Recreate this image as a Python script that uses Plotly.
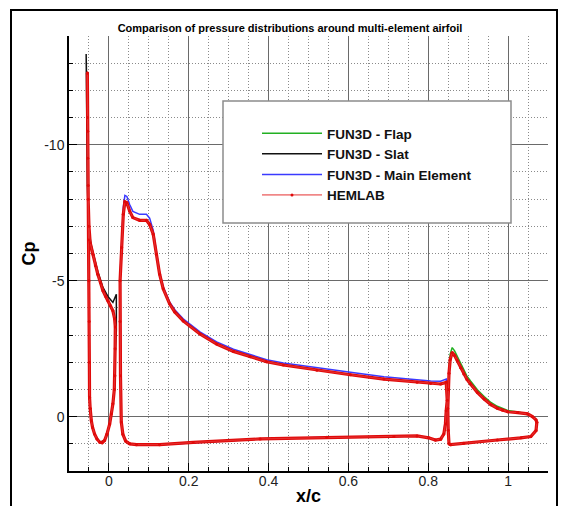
import plotly.graph_objects as go

# ---------------- data ----------------
# HEMLAB - slat (closed loop: LE -> upper -> TE -> lower -> LE)
hem_slat_x = [-0.054, -0.0535, -0.053, -0.052, -0.050, -0.047, -0.040, -0.034, -0.028, -0.021,
              -0.015, -0.008, -0.0025, 0.004, 0.010, 0.0143, 0.016, 0.0155, 0.015, 0.0135,
              0.010, 0.006, 0.002, -0.005, -0.011, -0.017, -0.023, -0.030, -0.036, -0.041,
              -0.044, -0.047, -0.0485, -0.049, -0.0495, -0.050, -0.051, -0.052, -0.053, -0.054]
hem_slat_cp = [-12.64, -11.0, -9.5, -8.0, -7.0, -6.4, -5.97, -5.55, -5.24, -4.92,
               -4.63, -4.42, -4.26, -4.08, -3.89, -3.6, -3.3, -2.5, -1.5, -1.0,
               -0.47, -0.1, 0.27, 0.65, 0.88, 0.96, 0.94, 0.82, 0.64, 0.4,
               0.15, -0.3, -0.71, -2.0, -3.5, -5.0, -6.5, -8.5, -10.5, -12.64]

# HEMLAB - main element
hem_main_x = [0.052, 0.042, 0.035, 0.031, 0.029, 0.028, 0.028, 0.032, 0.036, 0.040,
              0.045, 0.052, 0.060, 0.077, 0.094, 0.102, 0.111, 0.119, 0.127, 0.136,
              0.152, 0.165, 0.186, 0.228, 0.270, 0.312, 0.354, 0.395, 0.437, 0.521,
              0.605, 0.689, 0.772, 0.806, 0.831, 0.845, 0.8475, 0.845, 0.843, 0.839,
              0.831, 0.818, 0.801, 0.772, 0.714, 0.546, 0.379, 0.211, 0.127, 0.069, 0.052]
hem_main_cp = [1.0, 0.9, 0.65, 0.2, -1.5, -3.5, -5.0, -6.22, -7.44, -7.9,
               -7.87, -7.56, -7.32, -7.22, -7.22, -7.07, -6.71, -5.97, -5.24, -4.7,
               -4.15, -3.85, -3.52, -3.04, -2.67, -2.40, -2.20, -2.02, -1.90, -1.71,
               -1.54, -1.38, -1.26, -1.22, -1.20, -1.26, -0.6, -0.22, 0.27, 0.64,
               0.83, 0.86, 0.78, 0.71, 0.73, 0.76, 0.82, 0.95, 1.03, 1.03, 1.0]

# HEMLAB - flap
hem_flap_x = [0.852, 0.850, 0.849, 0.850, 0.852, 0.855, 0.860, 0.866, 0.873, 0.881,
              0.889, 0.897, 0.906, 0.923, 0.940, 0.957, 0.973, 0.986, 0.999, 1.024,
              1.049, 1.061, 1.070, 1.072, 1.070, 1.057, 1.032, 0.973, 0.889, 0.856, 0.852]
hem_flap_cp = [1.0, 0.5, -0.3, -1.0, -1.6, -2.1, -2.36, -2.25, -2.06, -1.8,
               -1.57, -1.37, -1.20, -0.89, -0.65, -0.44, -0.31, -0.23, -0.18, -0.15,
               -0.10, 0.0, 0.12, 0.21, 0.51, 0.73, 0.78, 0.86, 0.98, 1.03, 1.0]

# FUN3D - slat (TE lower -> lower -> LE -> upper -> TE)
f3d_slat_x = [0.0186, 0.016, 0.0135, 0.010, 0.002, -0.011, -0.023, -0.036, -0.044, -0.0485,
              -0.050, -0.052, -0.055, -0.057, -0.056, -0.054, -0.051, -0.045, -0.040, -0.028,
              -0.015, -0.0025, 0.010, 0.0186, 0.0186]
f3d_slat_cp = [-3.16, -2.4, -1.1, -0.47, 0.27, 0.88, 0.94, 0.64, 0.15, -0.71,
               -4.0, -8.0, -11.5, -13.34, -11.0, -8.5, -7.0, -6.35, -6.05, -5.35,
               -4.75, -4.42, -4.2, -4.5, -3.16]

# FUN3D - main element
f3d_main_x = [0.052, 0.042, 0.035, 0.031, 0.029, 0.028, 0.028, 0.032, 0.036, 0.040,
              0.045, 0.052, 0.060, 0.077, 0.094, 0.102, 0.111, 0.119, 0.127, 0.136,
              0.152, 0.165, 0.186, 0.228, 0.270, 0.312, 0.354, 0.395, 0.437, 0.521,
              0.605, 0.689, 0.772, 0.806, 0.831, 0.845, 0.8475, 0.845, 0.843, 0.839,
              0.831, 0.818, 0.801, 0.772, 0.714, 0.546, 0.379, 0.211, 0.127, 0.069, 0.052]
f3d_main_cp = [1.0, 0.9, 0.65, 0.2, -1.5, -3.5, -5.1, -6.4, -7.7, -8.14,
               -8.1, -7.8, -7.55, -7.44, -7.44, -7.3, -6.85, -6.05, -5.3, -4.78,
               -4.22, -3.93, -3.6, -3.12, -2.75, -2.48, -2.28, -2.09, -1.97, -1.79,
               -1.63, -1.47, -1.35, -1.31, -1.30, -1.38, -0.6, -0.22, 0.27, 0.64,
               0.83, 0.86, 0.78, 0.71, 0.73, 0.76, 0.82, 0.95, 1.03, 1.03, 1.0]

# FUN3D - flap
f3d_flap_x = [0.852, 0.850, 0.849, 0.850, 0.852, 0.855, 0.860, 0.866, 0.873, 0.881,
              0.889, 0.897, 0.906, 0.923, 0.940, 0.957, 0.973, 0.986, 0.999, 1.024,
              1.049, 1.061, 1.070, 1.072, 1.070, 1.057, 1.032, 0.973, 0.889, 0.856, 0.852]
f3d_flap_cp = [1.0, 0.5, -0.3, -1.1, -1.75, -2.3, -2.54, -2.42, -2.2, -1.93,
               -1.7, -1.49, -1.31, -0.99, -0.74, -0.52, -0.38, -0.29, -0.23, -0.17,
               -0.10, 0.0, 0.12, 0.21, 0.51, 0.73, 0.78, 0.86, 0.98, 1.03, 1.0]

series_names = ["FUN3D - Flap", "FUN3D - Slat", "FUN3D - Main Element", "HEMLAB"]
series_colors = ["#22b022", "#111111", "#3a3aff", "#e00a0a"]

x_tick_vals = [0, 0.2, 0.4, 0.6, 0.8, 1.0]
x_tick_text = ["0", "0.2", "0.4", "0.6", "0.8", "1"]
y_tick_vals = [-10, -5, 0]
y_tick_text = ["-10", "-5", "0"]
x_minor_vals = [round(-0.1 + 0.05 * i, 2) for i in range(25)]
y_minor_vals = list(range(-14, 3))

title_text = "Comparison of pressure distributions around multi-element airfoil"
x_label = "x/c"
y_label = "Cp"

FONT = "Liberation Sans, Arial, Helvetica, sans-serif"

fig = go.Figure()
fig.add_trace(go.Scatter(x=f3d_flap_x, y=f3d_flap_cp, mode="lines", name=series_names[0],
                         line=dict(color=series_colors[0], width=1.5)))
fig.add_trace(go.Scatter(x=f3d_slat_x, y=f3d_slat_cp, mode="lines", name=series_names[1],
                         line=dict(color=series_colors[1], width=1.5)))
fig.add_trace(go.Scatter(x=f3d_main_x, y=f3d_main_cp, mode="lines", name=series_names[2],
                         line=dict(color=series_colors[2], width=1.5)))

hem_x = hem_slat_x + [None] + hem_main_x + [None] + hem_flap_x
hem_cp = hem_slat_cp + [None] + hem_main_cp + [None] + hem_flap_cp
# dense HEMLAB symbols make the curve look thick: a thick underlay of the same data
fig.add_trace(go.Scatter(x=hem_x, y=hem_cp, mode="lines", name=series_names[3],
                         legendgroup="hem", showlegend=False, connectgaps=False, hoverinfo="skip",
                         line=dict(color=series_colors[3], width=3.2)))
fig.add_trace(go.Scatter(x=hem_x, y=hem_cp, mode="lines+markers", name=series_names[3],
                         legendgroup="hem", connectgaps=False,
                         line=dict(color="#e63030", width=1),
                         marker=dict(color=series_colors[3], size=3)))

L, R, T, B = 69, 18, 36, 35
W, H = 566, 506
pw, ph = W - L - R, H - T - B


def px2paper_x(px):
    return (px - L) / pw


def px2paper_y(py):
    return (H - B - py) / ph


# legend box
fig.add_shape(type="rect", xref="paper", yref="paper",
              x0=px2paper_x(223), x1=px2paper_x(511), y0=px2paper_y(223), y1=px2paper_y(101),
              line=dict(color="#8c8c8c", width=1.5), fillcolor="white", layer="above")
# outer frame
fig.add_shape(type="rect", xref="paper", yref="paper",
              x0=px2paper_x(11), x1=px2paper_x(557), y0=px2paper_y(530), y1=px2paper_y(10),
              line=dict(color="black", width=2), fillcolor="rgba(0,0,0,0)", layer="above")

grid_major = "#6a6a6a"
grid_minor = "#8a8a8a"
minor_dash = "1px,2px"

fig.update_layout(
    width=W, height=H,
    margin=dict(l=L, r=R, t=T, b=B, autoexpand=False),
    paper_bgcolor="white", plot_bgcolor="white",
    font=dict(family=FONT, color="#222222"),
    title=dict(text="<b>" + title_text + "</b>", x=290 / W, xanchor="center", xref="container",
               y=1 - 28 / H, yanchor="middle", yref="container",
               font=dict(size=11, color="black", family=FONT)),
    showlegend=True,
    legend=dict(x=px2paper_x(257), y=px2paper_y(118), xanchor="left", yanchor="top",
                bgcolor="rgba(0,0,0,0)", borderwidth=0, itemwidth=60,
                font=dict(size=13.5, color="#111111", family=FONT, weight="bold"), tracegroupgap=0,
                itemclick=False),
    xaxis=dict(range=[-0.1, 1.1], tickmode="array", tickvals=x_tick_vals, ticktext=x_tick_text,
               showline=True, linecolor="black", linewidth=1.5,
               ticks="inside", ticklen=8, tickcolor="black", tickwidth=1, ticklabelstandoff=-4,
               showgrid=True, gridcolor=grid_major, gridwidth=1, zeroline=False,
               tickfont=dict(size=14, color="#222222"),
               minor=dict(tickmode="array", tickvals=x_minor_vals, ticks="inside", ticklen=4,
                          tickcolor="black", showgrid=True, gridcolor=grid_minor,
                          griddash=minor_dash, gridwidth=1),
               title=dict(text="<b>" + x_label + "</b>", font=dict(size=18, color="black"), standoff=9),
               automargin=False),
    yaxis=dict(range=[2, -14], tickmode="array", tickvals=y_tick_vals, ticktext=y_tick_text,
               showline=True, linecolor="black", linewidth=1.5,
               ticks="inside", ticklen=8, tickcolor="black", tickwidth=1,
               showgrid=True, gridcolor=grid_major, gridwidth=1, zeroline=False,
               tickfont=dict(size=14, color="#222222"),
               minor=dict(tickmode="array", tickvals=y_minor_vals, ticks="inside", ticklen=4,
                          tickcolor="black", showgrid=True, gridcolor=grid_minor,
                          griddash=minor_dash, gridwidth=1),
               title=dict(text="<b>" + y_label + "</b>", font=dict(size=18, color="black"), standoff=4),
               automargin=False),
)

fig.write_html("out.html")
